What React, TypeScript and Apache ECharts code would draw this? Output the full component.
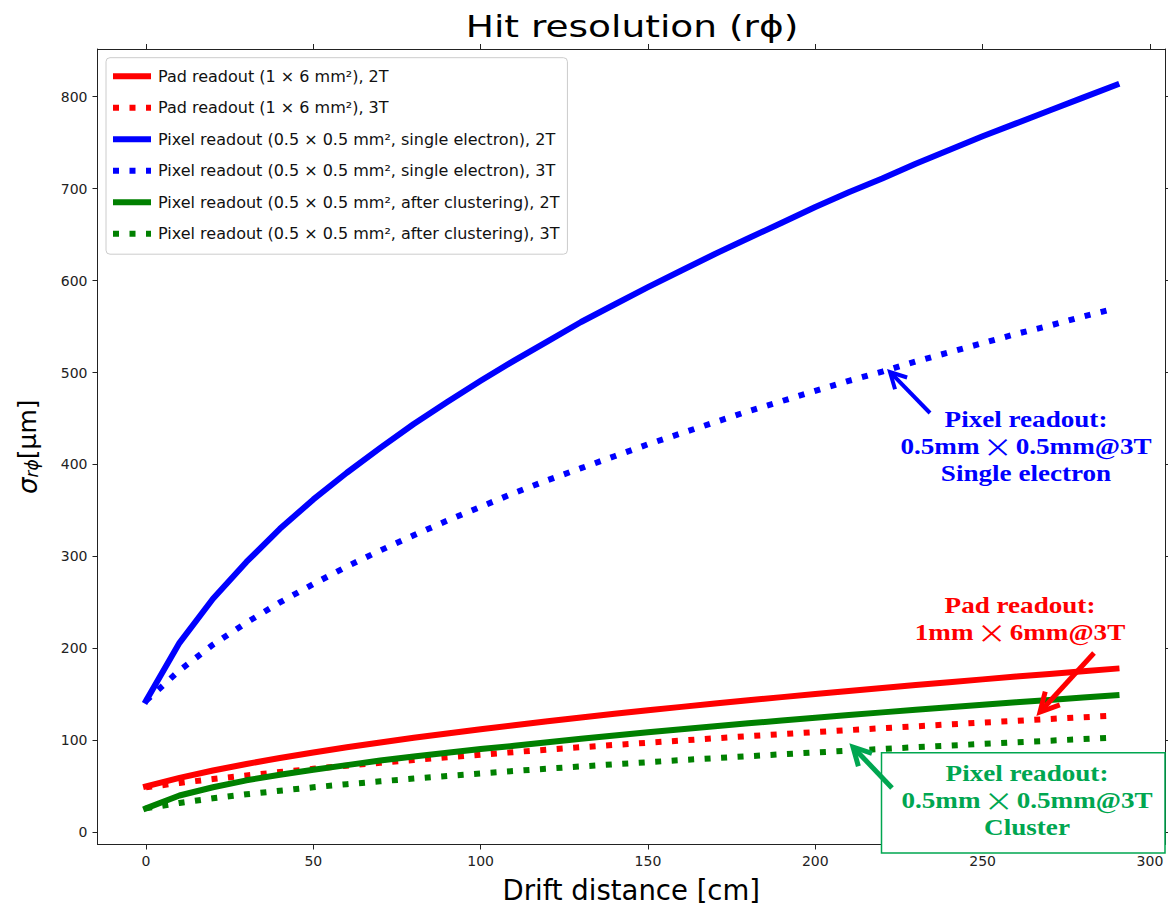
import React, { useEffect, useRef } from "react";
import * as echarts from "echarts";

const driftCm = [0, 10, 20, 30, 40, 50, 60, 70, 80, 90, 100, 110, 120, 130, 140, 150, 160, 170, 180, 190, 200, 210, 220, 230, 240, 250, 260, 270, 280, 290];

const pad2T = [50, 59.2, 67.2, 74.3, 80.8, 86.8, 92.4, 97.7, 102.7, 107.5, 112.1, 116.5, 120.7, 124.8, 128.8, 132.6, 136.4, 140, 143.6, 147, 150.4, 153.7, 156.9, 160.1, 163.2, 166.3, 169.3, 172.2, 175.1, 178];
const pad3T = [49, 53.6, 57.9, 61.8, 65.5, 69, 72.4, 75.6, 78.6, 81.6, 84.4, 87.2, 89.9, 92.5, 95, 97.4, 99.8, 102.2, 104.5, 106.7, 108.9, 111.1, 113.2, 115.2, 117.3, 119.3, 121.2, 123.2, 125.1, 127];
const pixelSingle2T = [143, 206, 254, 294, 330, 362, 391, 418, 444, 468, 491, 513, 534, 555, 574, 593, 611, 629, 646, 663, 680, 696, 711, 727, 742, 757, 771, 785, 799, 813];
const pixelSingle3T = [143, 176, 204, 228, 250, 270, 289, 306.5, 323, 339, 354, 369, 383, 396, 409, 422, 434, 446, 458, 469, 480, 491, 501, 512, 522, 532, 542, 551, 561, 570];
const pixelCluster2T = [26, 40, 49, 56.5, 62.5, 68, 73, 78, 82.5, 86.5, 90.5, 94, 97.9, 101.6, 105.2, 108.7, 112, 115.3, 118.5, 121.5, 124.6, 127.5, 130.4, 133.2, 136, 138.7, 141.3, 143.9, 146.5, 149];
const pixelCluster3T = [26, 31.9, 36.9, 41.3, 45.2, 48.9, 52.3, 55.4, 58.4, 61.3, 64, 66.7, 69.2, 71.6, 74, 76.2, 78.5, 80.6, 82.7, 84.8, 86.8, 88.7, 90.6, 92.5, 94.3, 96.1, 97.9, 99.6, 101.3, 103];

const xTicks = [0, 50, 100, 150, 200, 250, 300];
const yTicks = [0, 100, 200, 300, 400, 500, 600, 700, 800];

const seriesNames = [
  "Pad readout (1 × 6 mm²), 2T",
  "Pad readout (1 × 6 mm²), 3T",
  "Pixel readout (0.5 × 0.5 mm², single electron), 2T",
  "Pixel readout (0.5 × 0.5 mm², single electron), 3T",
  "Pixel readout (0.5 × 0.5 mm², after clustering), 2T",
  "Pixel readout (0.5 × 0.5 mm², after clustering), 3T",
];
const seriesValues = [pad2T, pad3T, pixelSingle2T, pixelSingle3T, pixelCluster2T, pixelCluster3T];
const seriesColors = ["#ff0000", "#ff0000", "#0000ff", "#0000ff", "#008000", "#008000"];
const seriesDotted = [false, true, false, true, false, true];

const TITLE = "Hit resolution (rϕ)";
const X_NAME = "Drift distance [cm]";
const NOTE_PIXEL_SINGLE = "Pixel readout:\n{t|0.5mm}{m|×}{t|0.5mm@3T}\nSingle electron";
const NOTE_PAD = "Pad readout:\n{t|1mm}{m|×}{t|6mm@3T}";
const NOTE_PIXEL_CLUSTER = "Pixel readout:\n{t|0.5mm}{m|×}{t|0.5mm@3T}\nCluster";

function arrow(tail: number[], tip: number[], color: string, width: number, arm = 20, angDeg = 28) {
  const dx = tail[0] - tip[0];
  const dy = tail[1] - tip[1];
  const len = Math.sqrt(dx * dx + dy * dy);
  const ux = dx / len;
  const uy = dy / len;
  const a = (angDeg * Math.PI) / 180;
  const rot = (s: number) => [
    tip[0] + arm * (ux * Math.cos(s * a) - uy * Math.sin(s * a)),
    tip[1] + arm * (ux * Math.sin(s * a) + uy * Math.cos(s * a)),
  ];
  return [
    {
      type: "line",
      z: 100,
      shape: { x1: tail[0], y1: tail[1], x2: tip[0] + ux * 2, y2: tip[1] + uy * 2 },
      style: { stroke: color, lineWidth: width, lineCap: "butt" },
    },
    {
      type: "polyline",
      z: 100,
      shape: { points: [rot(1), tip, rot(-1)] },
      style: { stroke: color, lineWidth: width, fill: null, lineJoin: "miter" },
    },
  ];
}

const ANN_SIZE = 24;
const ANN_LH = 27;

function annText(x: number, y: number, text: string, color: string) {
  return {
    type: "text",
    z: 101,
    x,
    y,
    scaleX: 1.13,
    style: {
      x: 0,
      y: 0,
      text,
      fill: color,
      fontFamily: "'Liberation Serif', 'Times New Roman', serif",
      fontWeight: "bold",
      fontSize: ANN_SIZE,
      lineHeight: ANN_LH,
      align: "center",
      verticalAlign: "middle",
      rich: {
        t: { fill: color, fontFamily: "'Liberation Serif', serif", fontWeight: "bold", fontSize: ANN_SIZE, lineHeight: ANN_LH },
        m: { fill: color, fontFamily: "'Noto Sans CJK SC', 'DejaVu Sans', sans-serif", fontWeight: "normal", fontSize: ANN_SIZE + 2, lineHeight: ANN_LH, padding: [0, 3] },
      },
    },
  };
}

export default function App() {
  const ref = useRef<HTMLDivElement>(null);
  useEffect(() => {
    document.body.style.margin = "0";
    const chart = echarts.init(ref.current!, null, { renderer: "svg" });
    const axisColor = "#222";
    const tickFont = { fontFamily: "'DejaVu Sans', sans-serif", fontSize: 14, color: axisColor };

    const series = seriesNames.map((name, i) => ({
      name,
      type: "line",
      xAxisIndex: 0,
      yAxisIndex: 0,
      data: driftCm.map((x, j) => [x, seriesValues[i][j]]),
      symbol: "none",
      showSymbol: false,
      smooth: false,
      color: seriesColors[i],
      lineStyle: {
        color: seriesColors[i],
        width: 6,
        type: seriesDotted[i] ? [6, 10.5] : "solid",
        cap: seriesDotted[i] ? "butt" : "square",
        join: "round",
      },
      z: 2 + i,
    }));

    const blue = "#0000ff";
    const red = "#ff0000";
    const green = "#00a650";

    const graphic: any[] = [
      {
        type: "text",
        x: 632,
        y: 26,
        scaleX: 1.25,
        z: 50,
        style: {
          x: 0,
          y: 0,
          text: TITLE,
          fill: "#000",
          fontFamily: "'DejaVu Sans', sans-serif",
          fontSize: 30,
          align: "center",
          verticalAlign: "middle",
        },
      },
      {
        type: "rect",
        z: 99,
        shape: { x: 881.5, y: 752.7, width: 283.5, height: 100.3 },
        style: { fill: "#ffffff", stroke: green, lineWidth: 1.5 },
      },
      ...arrow([930, 413], [890, 372], blue, 4, 18),
      ...arrow([1094, 653], [1040, 712], red, 5, 21),
      ...arrow([892, 788], [853, 747], green, 5, 20),
      annText(1026, 446, NOTE_PIXEL_SINGLE, blue),
      annText(1020, 618.5, NOTE_PAD, red),
      annText(1027, 800, NOTE_PIXEL_CLUSTER, green),
    ];

    const option: any = {
      animation: false,
      backgroundColor: "#ffffff",
      textStyle: { fontFamily: "'DejaVu Sans', sans-serif" },
      grid: {
        left: 97.5,
        right: 3,
        top: 49,
        bottom: 61.5,
        containLabel: false,
        outerBoundsMode: "none",
      },
      legend: {
        orient: "vertical",
        left: 106,
        top: 57.7,
        padding: [10.5, 8, 12.5, 4],
        itemWidth: 38,
        itemHeight: 14,
        itemGap: 15.5,
        backgroundColor: "#ffffff",
        borderColor: "#cccccc",
        borderWidth: 1,
        borderRadius: 4,
        itemStyle: { opacity: 0, borderWidth: 0 },
        lineStyle: { width: 6, type: "inherit", cap: "butt" },
        data: seriesNames,
        textStyle: {
          fontFamily: "'DejaVu Sans', sans-serif",
          fontSize: 16,
          color: "#111",
          padding: [0, 0, 0, 2],
        },
      },
      xAxis: [
        {
          type: "value",
          position: "bottom",
          min: -14.5,
          max: 304.5,
          name: X_NAME,
          nameLocation: "middle",
          nameGap: 31,
          nameTextStyle: { fontFamily: "'DejaVu Sans', sans-serif", fontSize: 27.5, color: "#000" },
          axisLine: { show: true, onZero: false, lineStyle: { color: axisColor, width: 1 } },
          axisTick: { show: true, inside: false, length: 5, customValues: xTicks, lineStyle: { color: axisColor, width: 1 } },
          axisLabel: { show: true, margin: 9, customValues: xTicks, ...tickFont },
          splitLine: { show: false },
        },
        {
          type: "value",
          position: "top",
          min: -14.5,
          max: 304.5,
          axisLine: { show: true, onZero: false, lineStyle: { color: axisColor, width: 1 } },
          axisTick: { show: true, inside: false, length: 5, customValues: xTicks, lineStyle: { color: axisColor, width: 1 } },
          axisLabel: { show: false },
          splitLine: { show: false },
        },
      ],
      yAxis: [
        {
          type: "value",
          position: "left",
          min: -13.3,
          max: 851.9,
          name: "{s|σ}{sub|rϕ}{n|[μm]}",
          nameLocation: "middle",
          nameGap: 57,
          nameRotate: 90,
          nameTextStyle: {
            fontFamily: "'DejaVu Sans', sans-serif",
            fontSize: 25,
            color: "#000",
            rich: {
              s: { fontFamily: "'DejaVu Sans', sans-serif", fontSize: 26, fontStyle: "italic", color: "#000" },
              sub: { fontFamily: "'DejaVu Sans', sans-serif", fontSize: 17, fontStyle: "italic", color: "#000", verticalAlign: "bottom" },
              n: { fontFamily: "'DejaVu Sans', sans-serif", fontSize: 25, color: "#000" },
            },
          },
          axisLine: { show: true, onZero: false, lineStyle: { color: axisColor, width: 1 } },
          axisTick: { show: true, inside: false, length: 5, customValues: yTicks, lineStyle: { color: axisColor, width: 1 } },
          axisLabel: { show: true, margin: 10, customValues: yTicks, ...tickFont },
          splitLine: { show: false },
        },
        {
          type: "value",
          position: "right",
          min: -13.3,
          max: 851.9,
          axisLine: { show: true, onZero: false, lineStyle: { color: axisColor, width: 1 } },
          axisTick: { show: true, inside: false, length: 5, customValues: yTicks, lineStyle: { color: axisColor, width: 1 } },
          axisLabel: { show: false },
          splitLine: { show: false },
        },
      ],
      series,
      graphic,
    };
    chart.setOption(option);
    return () => chart.dispose();
  }, []);
  return <div ref={ref} style={{ width: 1168, height: 906, position: "absolute", left: 0, top: 0 }} />;
}
